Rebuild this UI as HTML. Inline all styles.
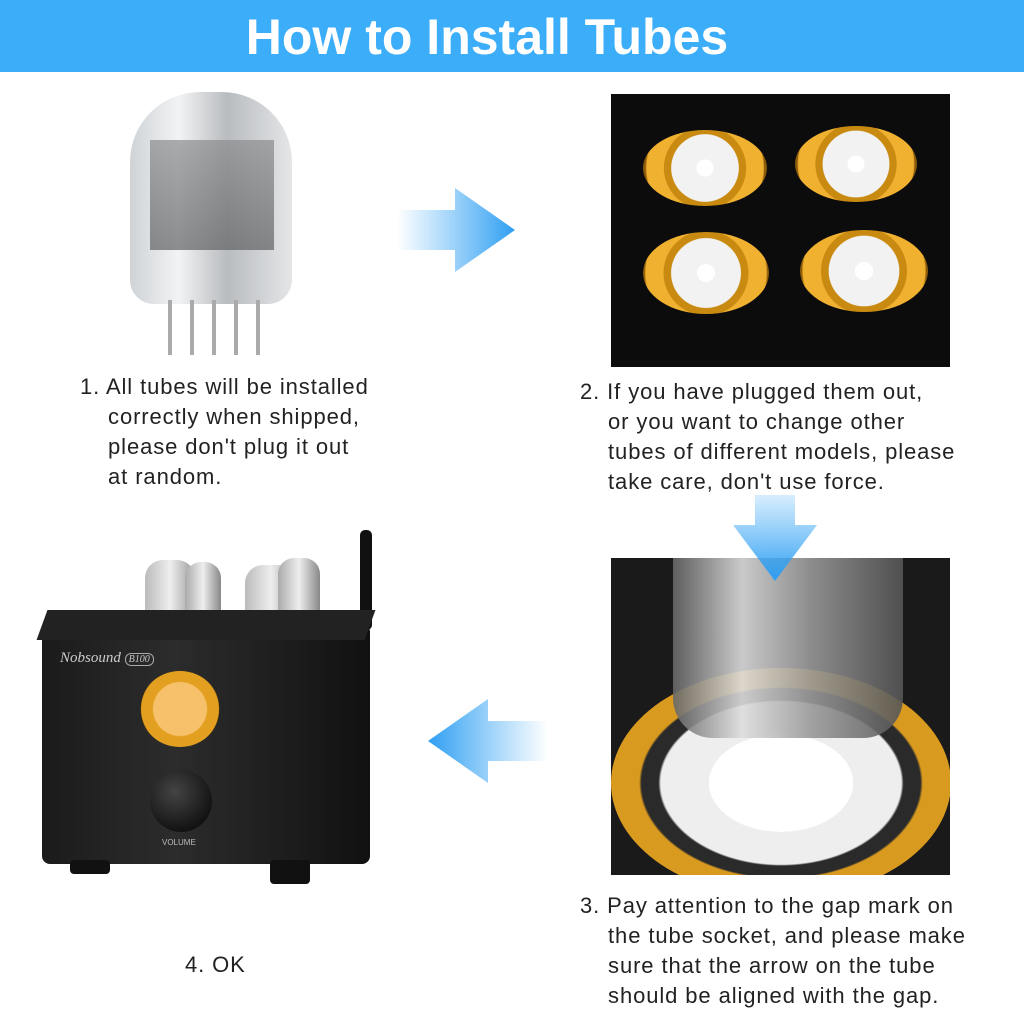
<!DOCTYPE html>
<html><head><style>
body{margin:0;width:1024px;height:1008px;background:#fff;position:relative;overflow:hidden;font-family:"Liberation Sans",sans-serif;}
.abs{position:absolute;}
.hdr{left:0;top:0;width:1024px;height:72px;background:#3badf9;color:#fff;font-weight:bold;font-size:50px;text-align:center;line-height:74px;}
.hdr span{position:absolute;left:238px;top:0;width:498px;text-align:center;}
.t{font-size:22px;line-height:30px;color:#222;letter-spacing:0.9px;white-space:nowrap;}
.ring{position:absolute;border-radius:50%;background:radial-gradient(circle,#fff 0 12%,#f2f2f2 12% 46%,#c88a10 47% 56%,#f0b030 57% 80%,#8a5a08 82% 100%);}
</style></head><body>
<div class="abs hdr"><span>How to Install Tubes</span></div>

<div class="abs" style="left:130px;top:92px;width:162px;height:212px;border-radius:70px 70px 24px 24px;background:linear-gradient(90deg,#cfd3d6,#f2f3f4 30%,#b9bcbf 60%,#e4e6e8);"></div>
<div class="abs" style="left:150px;top:140px;width:124px;height:110px;background:linear-gradient(#8a8c8e,#5e6062);opacity:.7"></div>
<div class="abs" style="left:158px;top:300px;width:110px;height:55px;background:repeating-linear-gradient(90deg,transparent 0 10px,#aaa 10px 14px,transparent 14px 22px);"></div>

<svg class="abs" style="left:397px;top:188px" width="120" height="84"><defs><linearGradient id="g1"><stop offset="0" stop-color="#3aa7f5" stop-opacity="0"/><stop offset="1" stop-color="#2e9ef2"/></linearGradient></defs><polygon points="0,22 58,22 58,0 118,42 58,84 58,62 0,62" fill="url(#g1)"/></svg>

<div class="abs" style="left:611px;top:94px;width:339px;height:273px;background:#0c0c0c;"></div>
<div class="ring" style="left:643px;top:130px;width:124px;height:76px;"></div>
<div class="ring" style="left:795px;top:126px;width:122px;height:76px;"></div>
<div class="ring" style="left:643px;top:232px;width:126px;height:82px;"></div>
<div class="ring" style="left:800px;top:230px;width:128px;height:82px;"></div>

<div class="abs t" style="left:80px;top:372px;">1. All tubes will be installed<br>&nbsp;&nbsp;&nbsp;&nbsp;correctly when shipped,<br>&nbsp;&nbsp;&nbsp;&nbsp;please don't plug it out<br>&nbsp;&nbsp;&nbsp;&nbsp;at random.</div>
<div class="abs t" style="left:580px;top:377px;">2. If you have plugged them out,<br>&nbsp;&nbsp;&nbsp;&nbsp;or you want to change other<br>&nbsp;&nbsp;&nbsp;&nbsp;tubes of different models, please<br>&nbsp;&nbsp;&nbsp;&nbsp;take care, don't use force.</div>

<div class="abs" style="left:611px;top:558px;width:339px;height:317px;background:#1a1a1a;overflow:hidden;">
 <div class="abs" style="left:0;top:110px;width:340px;height:230px;border-radius:50%;background:radial-gradient(ellipse,#fff 0 30%,#eee 30% 50%,#2a2a2a 51% 58%,#d99a20 59% 85%,#8a5a08 86%);"></div>
 <div class="abs" style="left:62px;top:0;width:230px;height:180px;border-radius:0 0 40px 40px;background:linear-gradient(90deg,#666,#ddd 30%,#999 60%,#555);opacity:.9"></div>
</div>
<svg class="abs" style="left:733px;top:495px" width="84" height="86"><defs><linearGradient id="g2" x1="0" y1="0" x2="0" y2="1"><stop offset="0" stop-color="#3aa7f5" stop-opacity="0.2"/><stop offset="1" stop-color="#2e9ef2"/></linearGradient></defs><polygon points="22,0 62,0 62,30 84,30 42,86 0,30 22,30" fill="url(#g2)"/></svg>

<svg class="abs" style="left:428px;top:699px" width="120" height="84"><defs><linearGradient id="g3" x1="1" y1="0" x2="0" y2="0"><stop offset="0" stop-color="#3aa7f5" stop-opacity="0"/><stop offset="1" stop-color="#2e9ef2"/></linearGradient></defs><polygon points="120,22 60,22 60,0 0,42 60,84 60,62 120,62" fill="url(#g3)"/></svg>

<div class="abs" style="left:360px;top:530px;width:12px;height:100px;background:#111;border-radius:5px;"></div>
<div class="abs" style="left:145px;top:560px;width:50px;height:70px;border-radius:18px 18px 4px 4px;background:linear-gradient(90deg,#bbb,#eee,#999);"></div>
<div class="abs" style="left:185px;top:562px;width:36px;height:66px;border-radius:16px 16px 4px 4px;background:linear-gradient(90deg,#aaa,#eee,#888);"></div>
<div class="abs" style="left:245px;top:565px;width:52px;height:68px;border-radius:18px 18px 4px 4px;background:linear-gradient(90deg,#bbb,#eee,#999);"></div>
<div class="abs" style="left:278px;top:558px;width:42px;height:70px;border-radius:16px 16px 4px 4px;background:linear-gradient(90deg,#aaa,#eee,#888);"></div>
<div class="abs" style="left:42px;top:624px;width:328px;height:240px;background:linear-gradient(90deg,#1b1b1b,#2c2c2c 40%,#111);border-radius:8px;"></div>
<div class="abs" style="left:42px;top:610px;width:328px;height:30px;background:#222;transform:skewX(-20deg);"></div>
<div class="abs" style="left:60px;top:650px;color:#ccc;font-style:italic;font-size:15px;font-family:'Liberation Serif',serif;">Nobsound <span style="font-size:10px;border:1px solid #aaa;border-radius:6px;padding:0 3px;">B100</span></div>
<div class="abs" style="left:140px;top:671px;width:80px;height:76px;border-radius:50%;background:radial-gradient(circle,#f6c16a 0 48%,#e3a020 50% 70%,#111 72% 100%);"></div>
<div class="abs" style="left:150px;top:770px;width:62px;height:62px;border-radius:50%;background:radial-gradient(circle at 40% 35%,#444,#000);"></div>
<div class="abs" style="left:162px;top:838px;color:#bbb;font-size:8px;">VOLUME</div>
<div class="abs" style="left:70px;top:860px;width:40px;height:14px;background:#111;border-radius:4px;"></div>
<div class="abs" style="left:270px;top:860px;width:40px;height:24px;background:#111;border-radius:4px;"></div>

<div class="abs t" style="left:580px;top:891px;">3. Pay attention to the gap mark on<br>&nbsp;&nbsp;&nbsp;&nbsp;the tube socket, and please make<br>&nbsp;&nbsp;&nbsp;&nbsp;sure that the arrow on the tube<br>&nbsp;&nbsp;&nbsp;&nbsp;should be aligned with the gap.</div>
<div class="abs t" style="left:185px;top:950px;">4. OK</div>
</body></html>
